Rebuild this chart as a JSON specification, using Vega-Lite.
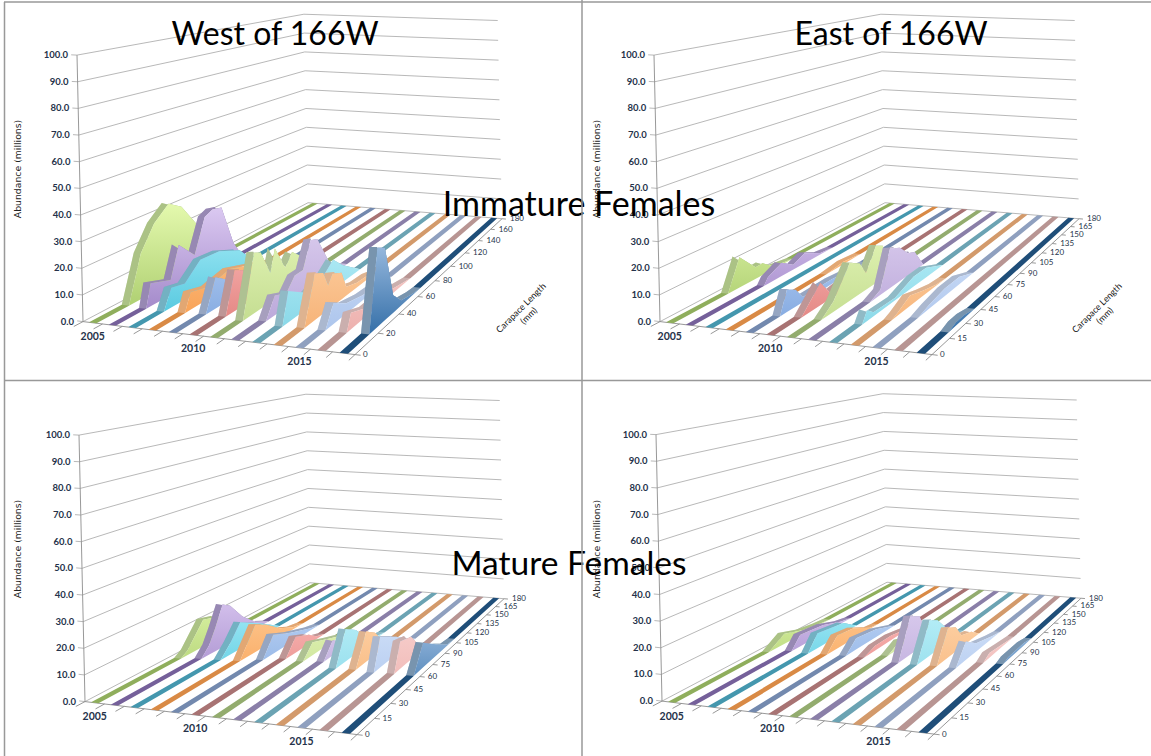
{"$schema":"https://vega.github.io/schema/vega-lite/v6.json","width":1151,"height":756,"padding":0,"autosize":"none","background":"white","view":{"stroke":null},
"encoding":{"x":{"field":"X","type":"quantitative","axis":null,"scale":{"domain":[0,1151],"range":[0,1151],"nice":false,"zero":false}},"y":{"field":"Y","type":"quantitative","axis":null,"scale":{"domain":[0,756],"range":[0,756],"nice":false,"zero":false}}},
"layer":[
{"data":{"values":[{"p":"WI"},{"p":"EI"},{"p":"WM"},{"p":"EM"}]},
"transform":[{"calculate":"[0,10,20,30,40,50,60,70,80,90,100]","as":"level"},{"flatten":["level"]},{"calculate":"[[-0.3,0,0],[0,0,1],[0,180,2],[13,180,3]]","as":"c"},{"flatten":["c"]},{"calculate":"datum.c[0]","as":"uu"},{"calculate":"datum.c[1]","as":"vv"},{"calculate":"datum.level","as":"zz"},{"calculate":"datum.c[2]","as":"i"},
{"calculate":"1-0.0713*datum.uu/13+0.4561*datum.vv/180","as":"w"},{"calculate":"(datum.p=='WI'?0:datum.p=='EI'?577:datum.p=='WM'?2:579)+(246.7*datum.uu/13+365.5*datum.vv/180+83-0.06*datum.zz)/datum.w","as":"X"},{"calculate":"(datum.p=='WM'?380:datum.p=='EM'?379.5:0)+(7.7*datum.uu/13-26.4*datum.vv/180+321.6-2.665*(1+0.03*datum.vv/180)*datum.zz)/datum.w","as":"Y"},{"calculate":"datum.p+datum.level","as":"g"}],
"mark":{"type":"line","color":"#b0b0b0","strokeWidth":0.9},"encoding":{"detail":{"field":"g"},"order":{"field":"i"}}},
{"data":{"values":[{"p":"WI"},{"p":"EI"},{"p":"WM"},{"p":"EM"}]},
"transform":[{"calculate":"datum.p=='WI'?[[0,0,0,0],[0,0,13,0],[13,0,13,180],[0,0,0,-5],[1,0,1,-5],[2,0,2,-5],[3,0,3,-5],[4,0,4,-5],[5,0,5,-5],[6,0,6,-5],[7,0,7,-5],[8,0,8,-5],[9,0,9,-5],[10,0,10,-5],[11,0,11,-5],[12,0,12,-5],[13,0,13,-5],[13,0,13.25,0],[13,20,13.25,20],[13,40,13.25,40],[13,60,13.25,60],[13,80,13.25,80],[13,100,13.25,100],[13,120,13.25,120],[13,140,13.25,140],[13,160,13.25,160],[13,180,13.25,180]]:[[0,0,0,0],[0,0,13,0],[13,0,13,180],[0,0,0,-5],[1,0,1,-5],[2,0,2,-5],[3,0,3,-5],[4,0,4,-5],[5,0,5,-5],[6,0,6,-5],[7,0,7,-5],[8,0,8,-5],[9,0,9,-5],[10,0,10,-5],[11,0,11,-5],[12,0,12,-5],[13,0,13,-5],[13,0,13.25,0],[13,15,13.25,15],[13,30,13.25,30],[13,45,13.25,45],[13,60,13.25,60],[13,75,13.25,75],[13,90,13.25,90],[13,105,13.25,105],[13,120,13.25,120],[13,135,13.25,135],[13,150,13.25,150],[13,165,13.25,165],[13,180,13.25,180]]","as":"seg"},{"flatten":["seg"]},{"calculate":"[0,1]","as":"e"},{"flatten":["e"]},{"calculate":"datum.seg[datum.e*2]","as":"uu"},{"calculate":"datum.seg[datum.e*2+1]","as":"vv"},{"calculate":"datum.seg[0]==datum.seg[2]&&datum.seg[1]==datum.seg[3]?datum.e*100:0","as":"zz"},
{"calculate":"1-0.0713*datum.uu/13+0.4561*datum.vv/180","as":"w"},{"calculate":"(datum.p=='WI'?0:datum.p=='EI'?577:datum.p=='WM'?2:579)+(246.7*datum.uu/13+365.5*datum.vv/180+83-0.06*datum.zz)/datum.w","as":"X"},{"calculate":"(datum.p=='WM'?380:datum.p=='EM'?379.5:0)+(7.7*datum.uu/13-26.4*datum.vv/180+321.6-2.665*(1+0.03*datum.vv/180)*datum.zz)/datum.w","as":"Y"},{"calculate":"datum.p+datum.seg","as":"g"}],
"mark":{"type":"line","color":"#8c8c8c","strokeWidth":0.9},"encoding":{"detail":{"field":"g"},"order":{"field":"e"}}},
{"data":{"values":[
{"p":"WI","yr":2005,"cl":0,"m":0},{"p":"WI","yr":2005,"cl":19,"m":0},{"p":"WI","yr":2005,"cl":27,"m":18},{"p":"WI","yr":2005,"cl":36,"m":27.5},{"p":"WI","yr":2005,"cl":46,"m":33},{"p":"WI","yr":2005,"cl":55,"m":29.4},{"p":"WI","yr":2005,"cl":65,"m":20},{"p":"WI","yr":2005,"cl":80,"m":5},{"p":"WI","yr":2005,"cl":95,"m":0},{"p":"WI","yr":2005,"cl":180,"m":0},
{"p":"WI","yr":2006,"cl":0,"m":0},{"p":"WI","yr":2006,"cl":18,"m":0},{"p":"WI","yr":2006,"cl":21,"m":8.9},{"p":"WI","yr":2006,"cl":34,"m":6},{"p":"WI","yr":2006,"cl":40,"m":18.3},{"p":"WI","yr":2006,"cl":51,"m":11},{"p":"WI","yr":2006,"cl":59,"m":24.7},{"p":"WI","yr":2006,"cl":65,"m":26.4},{"p":"WI","yr":2006,"cl":72,"m":25.4},{"p":"WI","yr":2006,"cl":81,"m":7.6},{"p":"WI","yr":2006,"cl":88,"m":0},{"p":"WI","yr":2006,"cl":180,"m":0},
{"p":"WI","yr":2007,"cl":0,"m":0},{"p":"WI","yr":2007,"cl":17,"m":0},{"p":"WI","yr":2007,"cl":22,"m":7.6},{"p":"WI","yr":2007,"cl":31,"m":6.4},{"p":"WI","yr":2007,"cl":42,"m":12.5},{"p":"WI","yr":2007,"cl":56,"m":11.8},{"p":"WI","yr":2007,"cl":72,"m":7.6},{"p":"WI","yr":2007,"cl":81,"m":1.5},{"p":"WI","yr":2007,"cl":88,"m":0},{"p":"WI","yr":2007,"cl":180,"m":0},
{"p":"WI","yr":2008,"cl":0,"m":0},{"p":"WI","yr":2008,"cl":18,"m":0},{"p":"WI","yr":2008,"cl":22,"m":6.8},{"p":"WI","yr":2008,"cl":34,"m":4.8},{"p":"WI","yr":2008,"cl":50,"m":7},{"p":"WI","yr":2008,"cl":70,"m":3},{"p":"WI","yr":2008,"cl":85,"m":0},{"p":"WI","yr":2008,"cl":180,"m":0},
{"p":"WI","yr":2009,"cl":0,"m":0},{"p":"WI","yr":2009,"cl":19,"m":0},{"p":"WI","yr":2009,"cl":26,"m":12},{"p":"WI","yr":2009,"cl":36,"m":7.6},{"p":"WI","yr":2009,"cl":50,"m":5},{"p":"WI","yr":2009,"cl":65,"m":3},{"p":"WI","yr":2009,"cl":80,"m":0},{"p":"WI","yr":2009,"cl":180,"m":0},
{"p":"WI","yr":2010,"cl":0,"m":0},{"p":"WI","yr":2010,"cl":19,"m":0},{"p":"WI","yr":2010,"cl":26,"m":15.5},{"p":"WI","yr":2010,"cl":34,"m":13},{"p":"WI","yr":2010,"cl":45,"m":5},{"p":"WI","yr":2010,"cl":60,"m":2},{"p":"WI","yr":2010,"cl":75,"m":0},{"p":"WI","yr":2010,"cl":180,"m":0},
{"p":"WI","yr":2011,"cl":0,"m":0},{"p":"WI","yr":2011,"cl":17,"m":0},{"p":"WI","yr":2011,"cl":26,"m":23},{"p":"WI","yr":2011,"cl":31,"m":21.6},{"p":"WI","yr":2011,"cl":38,"m":11.6},{"p":"WI","yr":2011,"cl":42,"m":20},{"p":"WI","yr":2011,"cl":50,"m":9.9},{"p":"WI","yr":2011,"cl":56,"m":14.4},{"p":"WI","yr":2011,"cl":65,"m":9.8},{"p":"WI","yr":2011,"cl":75,"m":3},{"p":"WI","yr":2011,"cl":90,"m":0},{"p":"WI","yr":2011,"cl":180,"m":0},
{"p":"WI","yr":2012,"cl":0,"m":0},{"p":"WI","yr":2012,"cl":19,"m":0},{"p":"WI","yr":2012,"cl":26,"m":7.4},{"p":"WI","yr":2012,"cl":35,"m":5.3},{"p":"WI","yr":2012,"cl":42,"m":10},{"p":"WI","yr":2012,"cl":49,"m":10},{"p":"WI","yr":2012,"cl":56,"m":20},{"p":"WI","yr":2012,"cl":62,"m":18.8},{"p":"WI","yr":2012,"cl":73,"m":5.4},{"p":"WI","yr":2012,"cl":90,"m":0},{"p":"WI","yr":2012,"cl":180,"m":0},
{"p":"WI","yr":2013,"cl":0,"m":0},{"p":"WI","yr":2013,"cl":16,"m":0},{"p":"WI","yr":2013,"cl":21,"m":11.6},{"p":"WI","yr":2013,"cl":37,"m":5.5},{"p":"WI","yr":2013,"cl":50,"m":8},{"p":"WI","yr":2013,"cl":59,"m":11.8},{"p":"WI","yr":2013,"cl":68,"m":6.9},{"p":"WI","yr":2013,"cl":85,"m":0},{"p":"WI","yr":2013,"cl":180,"m":0},
{"p":"WI","yr":2014,"cl":0,"m":0},{"p":"WI","yr":2014,"cl":17,"m":0},{"p":"WI","yr":2014,"cl":26,"m":17.4},{"p":"WI","yr":2014,"cl":33,"m":15.4},{"p":"WI","yr":2014,"cl":37,"m":9.3},{"p":"WI","yr":2014,"cl":41,"m":12.6},{"p":"WI","yr":2014,"cl":49,"m":10.4},{"p":"WI","yr":2014,"cl":53,"m":3.6},{"p":"WI","yr":2014,"cl":63,"m":1.9},{"p":"WI","yr":2014,"cl":75,"m":1.5},{"p":"WI","yr":2014,"cl":85,"m":0},{"p":"WI","yr":2014,"cl":180,"m":0},
{"p":"WI","yr":2015,"cl":0,"m":0},{"p":"WI","yr":2015,"cl":17,"m":0},{"p":"WI","yr":2015,"cl":24,"m":7.8},{"p":"WI","yr":2015,"cl":35,"m":3.9},{"p":"WI","yr":2015,"cl":50,"m":2},{"p":"WI","yr":2015,"cl":65,"m":1.5},{"p":"WI","yr":2015,"cl":80,"m":0},{"p":"WI","yr":2015,"cl":180,"m":0},
{"p":"WI","yr":2016,"cl":0,"m":0},{"p":"WI","yr":2016,"cl":17,"m":0},{"p":"WI","yr":2016,"cl":21,"m":6},{"p":"WI","yr":2016,"cl":35,"m":3},{"p":"WI","yr":2016,"cl":50,"m":3},{"p":"WI","yr":2016,"cl":65,"m":1.5},{"p":"WI","yr":2016,"cl":80,"m":0},{"p":"WI","yr":2016,"cl":180,"m":0},
{"p":"WI","yr":2017,"cl":0,"m":0},{"p":"WI","yr":2017,"cl":18,"m":0},{"p":"WI","yr":2017,"cl":27,"m":29},{"p":"WI","yr":2017,"cl":34,"m":27},{"p":"WI","yr":2017,"cl":41,"m":6.6},{"p":"WI","yr":2017,"cl":49,"m":2},{"p":"WI","yr":2017,"cl":62,"m":0.5},{"p":"WI","yr":2017,"cl":70,"m":0},{"p":"WI","yr":2017,"cl":180,"m":0},
{"p":"EI","yr":2005,"cl":0,"m":0},{"p":"EI","yr":2005,"cl":33,"m":0},{"p":"EI","yr":2005,"cl":41,"m":12.3},{"p":"EI","yr":2005,"cl":52,"m":4.8},{"p":"EI","yr":2005,"cl":57,"m":5},{"p":"EI","yr":2005,"cl":65,"m":1.3},{"p":"EI","yr":2005,"cl":80,"m":0},{"p":"EI","yr":2005,"cl":180,"m":0},
{"p":"EI","yr":2006,"cl":0,"m":0},{"p":"EI","yr":2006,"cl":45,"m":0},{"p":"EI","yr":2006,"cl":48,"m":2.7},{"p":"EI","yr":2006,"cl":58,"m":5.6},{"p":"EI","yr":2006,"cl":67,"m":2},{"p":"EI","yr":2006,"cl":76,"m":4.4},{"p":"EI","yr":2006,"cl":89,"m":0.7},{"p":"EI","yr":2006,"cl":100,"m":0},{"p":"EI","yr":2006,"cl":180,"m":0},
{"p":"EI","yr":2007,"cl":0,"m":0},{"p":"EI","yr":2007,"cl":180,"m":0},
{"p":"EI","yr":2008,"cl":0,"m":0},{"p":"EI","yr":2008,"cl":65,"m":0},{"p":"EI","yr":2008,"cl":80,"m":1},{"p":"EI","yr":2008,"cl":95,"m":0},{"p":"EI","yr":2008,"cl":180,"m":0},
{"p":"EI","yr":2009,"cl":0,"m":0},{"p":"EI","yr":2009,"cl":17,"m":0},{"p":"EI","yr":2009,"cl":22,"m":8.5},{"p":"EI","yr":2009,"cl":28,"m":6.5},{"p":"EI","yr":2009,"cl":33,"m":2},{"p":"EI","yr":2009,"cl":39,"m":2},{"p":"EI","yr":2009,"cl":55,"m":2},{"p":"EI","yr":2009,"cl":70,"m":1},{"p":"EI","yr":2009,"cl":85,"m":0},{"p":"EI","yr":2009,"cl":180,"m":0},
{"p":"EI","yr":2010,"cl":0,"m":0},{"p":"EI","yr":2010,"cl":18,"m":0},{"p":"EI","yr":2010,"cl":32,"m":8.7},{"p":"EI","yr":2010,"cl":39,"m":2.6},{"p":"EI","yr":2010,"cl":47,"m":3.3},{"p":"EI","yr":2010,"cl":60,"m":3},{"p":"EI","yr":2010,"cl":75,"m":1},{"p":"EI","yr":2010,"cl":90,"m":0},{"p":"EI","yr":2010,"cl":180,"m":0},
{"p":"EI","yr":2011,"cl":0,"m":0},{"p":"EI","yr":2011,"cl":18,"m":0},{"p":"EI","yr":2011,"cl":27,"m":3.9},{"p":"EI","yr":2011,"cl":40,"m":14.8},{"p":"EI","yr":2011,"cl":48,"m":12.2},{"p":"EI","yr":2011,"cl":53,"m":6.7},{"p":"EI","yr":2011,"cl":62,"m":15.3},{"p":"EI","yr":2011,"cl":68,"m":13.6},{"p":"EI","yr":2011,"cl":72,"m":5},{"p":"EI","yr":2011,"cl":80,"m":1},{"p":"EI","yr":2011,"cl":95,"m":0},{"p":"EI","yr":2011,"cl":180,"m":0},
{"p":"EI","yr":2012,"cl":0,"m":0},{"p":"EI","yr":2012,"cl":40,"m":0},{"p":"EI","yr":2012,"cl":49,"m":2},{"p":"EI","yr":2012,"cl":58,"m":16},{"p":"EI","yr":2012,"cl":67,"m":13.7},{"p":"EI","yr":2012,"cl":74,"m":9.4},{"p":"EI","yr":2012,"cl":81,"m":7.8},{"p":"EI","yr":2012,"cl":89,"m":0},{"p":"EI","yr":2012,"cl":180,"m":0},
{"p":"EI","yr":2013,"cl":0,"m":0},{"p":"EI","yr":2013,"cl":18,"m":0},{"p":"EI","yr":2013,"cl":22,"m":4},{"p":"EI","yr":2013,"cl":27,"m":1.5},{"p":"EI","yr":2013,"cl":45,"m":1},{"p":"EI","yr":2013,"cl":62,"m":4},{"p":"EI","yr":2013,"cl":74,"m":4},{"p":"EI","yr":2013,"cl":91,"m":0},{"p":"EI","yr":2013,"cl":180,"m":0},
{"p":"EI","yr":2014,"cl":0,"m":0},{"p":"EI","yr":2014,"cl":25,"m":0},{"p":"EI","yr":2014,"cl":30,"m":1},{"p":"EI","yr":2014,"cl":41,"m":4},{"p":"EI","yr":2014,"cl":53,"m":2},{"p":"EI","yr":2014,"cl":65,"m":0.5},{"p":"EI","yr":2014,"cl":75,"m":0},{"p":"EI","yr":2014,"cl":180,"m":0},
{"p":"EI","yr":2015,"cl":0,"m":0},{"p":"EI","yr":2015,"cl":30,"m":0},{"p":"EI","yr":2015,"cl":40,"m":1.5},{"p":"EI","yr":2015,"cl":55,"m":3},{"p":"EI","yr":2015,"cl":70,"m":3},{"p":"EI","yr":2015,"cl":85,"m":0},{"p":"EI","yr":2015,"cl":180,"m":0},
{"p":"EI","yr":2016,"cl":0,"m":0},{"p":"EI","yr":2016,"cl":180,"m":0},
{"p":"EI","yr":2017,"cl":0,"m":0},{"p":"EI","yr":2017,"cl":20,"m":0},{"p":"EI","yr":2017,"cl":27,"m":1.2},{"p":"EI","yr":2017,"cl":35,"m":1.2},{"p":"EI","yr":2017,"cl":45,"m":0},{"p":"EI","yr":2017,"cl":180,"m":0},
{"p":"WM","yr":2005,"cl":0,"m":0},{"p":"WM","yr":2005,"cl":52,"m":0},{"p":"WM","yr":2005,"cl":57,"m":2},{"p":"WM","yr":2005,"cl":69,"m":11.6},{"p":"WM","yr":2005,"cl":80,"m":9.8},{"p":"WM","yr":2005,"cl":95,"m":3},{"p":"WM","yr":2005,"cl":105,"m":0},{"p":"WM","yr":2005,"cl":180,"m":0},
{"p":"WM","yr":2006,"cl":0,"m":0},{"p":"WM","yr":2006,"cl":54,"m":0},{"p":"WM","yr":2006,"cl":60,"m":4},{"p":"WM","yr":2006,"cl":65,"m":10},{"p":"WM","yr":2006,"cl":71,"m":18.3},{"p":"WM","yr":2006,"cl":77,"m":16.1},{"p":"WM","yr":2006,"cl":87,"m":8.6},{"p":"WM","yr":2006,"cl":98,"m":3.2},{"p":"WM","yr":2006,"cl":110,"m":0},{"p":"WM","yr":2006,"cl":180,"m":0},
{"p":"WM","yr":2007,"cl":0,"m":0},{"p":"WM","yr":2007,"cl":55,"m":0},{"p":"WM","yr":2007,"cl":63,"m":5},{"p":"WM","yr":2007,"cl":71,"m":11.3},{"p":"WM","yr":2007,"cl":87,"m":6.3},{"p":"WM","yr":2007,"cl":105,"m":0},{"p":"WM","yr":2007,"cl":180,"m":0},
{"p":"WM","yr":2008,"cl":0,"m":0},{"p":"WM","yr":2008,"cl":56,"m":0},{"p":"WM","yr":2008,"cl":69,"m":11.5},{"p":"WM","yr":2008,"cl":78,"m":9},{"p":"WM","yr":2008,"cl":90,"m":4},{"p":"WM","yr":2008,"cl":102,"m":1},{"p":"WM","yr":2008,"cl":112,"m":0},{"p":"WM","yr":2008,"cl":180,"m":0},
{"p":"WM","yr":2009,"cl":0,"m":0},{"p":"WM","yr":2009,"cl":60,"m":0},{"p":"WM","yr":2009,"cl":69,"m":8},{"p":"WM","yr":2009,"cl":84,"m":4.4},{"p":"WM","yr":2009,"cl":103,"m":1},{"p":"WM","yr":2009,"cl":112,"m":0},{"p":"WM","yr":2009,"cl":180,"m":0},
{"p":"WM","yr":2010,"cl":0,"m":0},{"p":"WM","yr":2010,"cl":64,"m":0},{"p":"WM","yr":2010,"cl":73,"m":6.7},{"p":"WM","yr":2010,"cl":85,"m":4},{"p":"WM","yr":2010,"cl":92,"m":1.3},{"p":"WM","yr":2010,"cl":100,"m":0},{"p":"WM","yr":2010,"cl":180,"m":0},
{"p":"WM","yr":2011,"cl":0,"m":0},{"p":"WM","yr":2011,"cl":63,"m":0},{"p":"WM","yr":2011,"cl":72,"m":5.4},{"p":"WM","yr":2011,"cl":88,"m":2.2},{"p":"WM","yr":2011,"cl":100,"m":0},{"p":"WM","yr":2011,"cl":180,"m":0},
{"p":"WM","yr":2012,"cl":0,"m":0},{"p":"WM","yr":2012,"cl":65,"m":0},{"p":"WM","yr":2012,"cl":74,"m":6.4},{"p":"WM","yr":2012,"cl":82,"m":3.2},{"p":"WM","yr":2012,"cl":95,"m":0},{"p":"WM","yr":2012,"cl":180,"m":0},
{"p":"WM","yr":2013,"cl":0,"m":0},{"p":"WM","yr":2013,"cl":59,"m":0},{"p":"WM","yr":2013,"cl":69,"m":13.3},{"p":"WM","yr":2013,"cl":79,"m":10},{"p":"WM","yr":2013,"cl":90,"m":3.5},{"p":"WM","yr":2013,"cl":100,"m":1},{"p":"WM","yr":2013,"cl":110,"m":0},{"p":"WM","yr":2013,"cl":180,"m":0},
{"p":"WM","yr":2014,"cl":0,"m":0},{"p":"WM","yr":2014,"cl":60,"m":0},{"p":"WM","yr":2014,"cl":71,"m":12.4},{"p":"WM","yr":2014,"cl":80,"m":9.3},{"p":"WM","yr":2014,"cl":88,"m":3.5},{"p":"WM","yr":2014,"cl":100,"m":0},{"p":"WM","yr":2014,"cl":180,"m":0},
{"p":"WM","yr":2015,"cl":0,"m":0},{"p":"WM","yr":2015,"cl":59,"m":0},{"p":"WM","yr":2015,"cl":66,"m":12.4},{"p":"WM","yr":2015,"cl":83,"m":7.4},{"p":"WM","yr":2015,"cl":95,"m":3},{"p":"WM","yr":2015,"cl":105,"m":0},{"p":"WM","yr":2015,"cl":180,"m":0},
{"p":"WM","yr":2016,"cl":0,"m":0},{"p":"WM","yr":2016,"cl":60,"m":0},{"p":"WM","yr":2016,"cl":67,"m":11},{"p":"WM","yr":2016,"cl":79,"m":9.4},{"p":"WM","yr":2016,"cl":90,"m":1.6},{"p":"WM","yr":2016,"cl":100,"m":0},{"p":"WM","yr":2016,"cl":180,"m":0},
{"p":"WM","yr":2017,"cl":0,"m":0},{"p":"WM","yr":2017,"cl":60,"m":0},{"p":"WM","yr":2017,"cl":71,"m":10},{"p":"WM","yr":2017,"cl":89,"m":3.8},{"p":"WM","yr":2017,"cl":100,"m":0.5},{"p":"WM","yr":2017,"cl":110,"m":0},{"p":"WM","yr":2017,"cl":180,"m":0},
{"p":"EM","yr":2005,"cl":0,"m":0},{"p":"EM","yr":2005,"cl":60,"m":0},{"p":"EM","yr":2005,"cl":72,"m":4.4},{"p":"EM","yr":2005,"cl":87,"m":1.6},{"p":"EM","yr":2005,"cl":100,"m":0.5},{"p":"EM","yr":2005,"cl":110,"m":0},{"p":"EM","yr":2005,"cl":180,"m":0},
{"p":"EM","yr":2006,"cl":0,"m":0},{"p":"EM","yr":2006,"cl":64,"m":0},{"p":"EM","yr":2006,"cl":71,"m":5},{"p":"EM","yr":2006,"cl":90,"m":3.8},{"p":"EM","yr":2006,"cl":105,"m":1},{"p":"EM","yr":2006,"cl":115,"m":0},{"p":"EM","yr":2006,"cl":180,"m":0},
{"p":"EM","yr":2007,"cl":0,"m":0},{"p":"EM","yr":2007,"cl":63,"m":0},{"p":"EM","yr":2007,"cl":71,"m":6.3},{"p":"EM","yr":2007,"cl":93,"m":4.5},{"p":"EM","yr":2007,"cl":105,"m":0},{"p":"EM","yr":2007,"cl":180,"m":0},
{"p":"EM","yr":2008,"cl":0,"m":0},{"p":"EM","yr":2008,"cl":64,"m":0},{"p":"EM","yr":2008,"cl":73,"m":5.6},{"p":"EM","yr":2008,"cl":87,"m":4.6},{"p":"EM","yr":2008,"cl":102,"m":0.5},{"p":"EM","yr":2008,"cl":110,"m":0},{"p":"EM","yr":2008,"cl":180,"m":0},
{"p":"EM","yr":2009,"cl":0,"m":0},{"p":"EM","yr":2009,"cl":65,"m":0},{"p":"EM","yr":2009,"cl":74,"m":4.8},{"p":"EM","yr":2009,"cl":92,"m":3.4},{"p":"EM","yr":2009,"cl":110,"m":0},{"p":"EM","yr":2009,"cl":180,"m":0},
{"p":"EM","yr":2010,"cl":0,"m":0},{"p":"EM","yr":2010,"cl":65,"m":0},{"p":"EM","yr":2010,"cl":75,"m":2},{"p":"EM","yr":2010,"cl":90,"m":2},{"p":"EM","yr":2010,"cl":105,"m":0.5},{"p":"EM","yr":2010,"cl":115,"m":0},{"p":"EM","yr":2010,"cl":180,"m":0},
{"p":"EM","yr":2011,"cl":0,"m":0},{"p":"EM","yr":2011,"cl":70,"m":0},{"p":"EM","yr":2011,"cl":82,"m":3},{"p":"EM","yr":2011,"cl":95,"m":0.5},{"p":"EM","yr":2011,"cl":105,"m":0},{"p":"EM","yr":2011,"cl":180,"m":0},
{"p":"EM","yr":2012,"cl":0,"m":0},{"p":"EM","yr":2012,"cl":63,"m":0},{"p":"EM","yr":2012,"cl":75,"m":16},{"p":"EM","yr":2012,"cl":84,"m":13.6},{"p":"EM","yr":2012,"cl":90,"m":5},{"p":"EM","yr":2012,"cl":100,"m":0.5},{"p":"EM","yr":2012,"cl":108,"m":0},{"p":"EM","yr":2012,"cl":180,"m":0},
{"p":"EM","yr":2013,"cl":0,"m":0},{"p":"EM","yr":2013,"cl":63,"m":0},{"p":"EM","yr":2013,"cl":76,"m":14.8},{"p":"EM","yr":2013,"cl":84,"m":12.6},{"p":"EM","yr":2013,"cl":93,"m":6.6},{"p":"EM","yr":2013,"cl":105,"m":0.5},{"p":"EM","yr":2013,"cl":112,"m":0},{"p":"EM","yr":2013,"cl":180,"m":0},
{"p":"EM","yr":2014,"cl":0,"m":0},{"p":"EM","yr":2014,"cl":64,"m":0},{"p":"EM","yr":2014,"cl":76,"m":12.2},{"p":"EM","yr":2014,"cl":84,"m":10.2},{"p":"EM","yr":2014,"cl":90,"m":5},{"p":"EM","yr":2014,"cl":101,"m":3.4},{"p":"EM","yr":2014,"cl":110,"m":0},{"p":"EM","yr":2014,"cl":180,"m":0},
{"p":"EM","yr":2015,"cl":0,"m":0},{"p":"EM","yr":2015,"cl":64,"m":0},{"p":"EM","yr":2015,"cl":75,"m":7.6},{"p":"EM","yr":2015,"cl":86,"m":3.5},{"p":"EM","yr":2015,"cl":105,"m":1},{"p":"EM","yr":2015,"cl":115,"m":0},{"p":"EM","yr":2015,"cl":180,"m":0},
{"p":"EM","yr":2016,"cl":0,"m":0},{"p":"EM","yr":2016,"cl":73,"m":0},{"p":"EM","yr":2016,"cl":80,"m":2},{"p":"EM","yr":2016,"cl":95,"m":1},{"p":"EM","yr":2016,"cl":110,"m":0},{"p":"EM","yr":2016,"cl":180,"m":0},
{"p":"EM","yr":2017,"cl":0,"m":0},{"p":"EM","yr":2017,"cl":74,"m":0},{"p":"EM","yr":2017,"cl":80,"m":1},{"p":"EM","yr":2017,"cl":100,"m":1},{"p":"EM","yr":2017,"cl":110,"m":0},{"p":"EM","yr":2017,"cl":180,"m":0}
]},
"transform":[{"window":[{"op":"lag","field":"m","param":1,"as":"lg"},{"op":"lead","field":"m","param":1,"as":"ld"}],"groupby":["p","yr"],"sort":[{"field":"cl","order":"ascending"}]},{"calculate":"datum.m>0||datum.lg>0||datum.ld>0","as":"raised"},{"calculate":"[['t',0.31,1,0],['t',0.69,1,1],['s',0.69,1,0],['s',0.69,0,1]]","as":"vt"},{"flatten":["vt"]},{"calculate":"datum.yr-2005+datum.vt[1]","as":"uu"},{"calculate":"datum.cl","as":"vv"},{"calculate":"datum.m*datum.vt[2]","as":"zz"},{"calculate":"datum.vt[3]==0?datum.cl:1000-datum.cl","as":"ord"},{"calculate":"datum.yr+datum.vt[0]","as":"fk"},
{"calculate":"1-0.0713*datum.uu/13+0.4561*datum.vv/180","as":"w"},{"calculate":"(datum.p=='WI'?0:datum.p=='EI'?577:datum.p=='WM'?2:579)+(246.7*datum.uu/13+365.5*datum.vv/180+83-0.06*datum.zz)/datum.w","as":"X"},{"calculate":"(datum.p=='WM'?380:datum.p=='EM'?379.5:0)+(7.7*datum.uu/13-26.4*datum.vv/180+321.6-2.665*(1+0.03*datum.vv/180)*datum.zz)/datum.w","as":"Y"}],
"encoding":{"detail":{"field":"p"},"order":{"field":"ord"}},
"layer":[
{"transform":[{"filter":"datum.fk=='2005t'"}],"mark":{"type":"line","strokeWidth":0,"fill":"#8FAE5C"}},
{"transform":[{"filter":"datum.fk=='2005t'&&datum.raised"}],"mark":{"type":"line","strokeWidth":0,"fill":"#ffffff","fillOpacity":0.25}},
{"transform":[{"filter":"datum.fk=='2005s'"}],"mark":{"type":"line","strokeWidth":0,"fill":{"gradient":"linear","x1":0,"y1":0,"x2":0,"y2":1,"stops":[{"offset":0,"color":"#E4F9AE"},{"offset":1,"color":"#A6C968"}]}}},
{"transform":[{"filter":"datum.fk=='2006t'"}],"mark":{"type":"line","strokeWidth":0,"fill":"#75609A"}},
{"transform":[{"filter":"datum.fk=='2006t'&&datum.raised"}],"mark":{"type":"line","strokeWidth":0,"fill":"#ffffff","fillOpacity":0.25}},
{"transform":[{"filter":"datum.fk=='2006s'"}],"mark":{"type":"line","strokeWidth":0,"fill":{"gradient":"linear","x1":0,"y1":0,"x2":0,"y2":1,"stops":[{"offset":0,"color":"#DCCAF2"},{"offset":1,"color":"#9B80C4"}]}}},
{"transform":[{"filter":"datum.fk=='2007t'"}],"mark":{"type":"line","strokeWidth":0,"fill":"#4497AE"}},
{"transform":[{"filter":"datum.fk=='2007t'&&datum.raised"}],"mark":{"type":"line","strokeWidth":0,"fill":"#ffffff","fillOpacity":0.25}},
{"transform":[{"filter":"datum.fk=='2007s'"}],"mark":{"type":"line","strokeWidth":0,"fill":{"gradient":"linear","x1":0,"y1":0,"x2":0,"y2":1,"stops":[{"offset":0,"color":"#B0F0FA"},{"offset":1,"color":"#4CC4DC"}]}}},
{"transform":[{"filter":"datum.fk=='2008t'"}],"mark":{"type":"line","strokeWidth":0,"fill":"#D98A45"}},
{"transform":[{"filter":"datum.fk=='2008t'&&datum.raised"}],"mark":{"type":"line","strokeWidth":0,"fill":"#ffffff","fillOpacity":0.25}},
{"transform":[{"filter":"datum.fk=='2008s'"}],"mark":{"type":"line","strokeWidth":0,"fill":{"gradient":"linear","x1":0,"y1":0,"x2":0,"y2":1,"stops":[{"offset":0,"color":"#FFCF9C"},{"offset":1,"color":"#F79C4D"}]}}},
{"transform":[{"filter":"datum.fk=='2009t'"}],"mark":{"type":"line","strokeWidth":0,"fill":"#7389AE"}},
{"transform":[{"filter":"datum.fk=='2009t'&&datum.raised"}],"mark":{"type":"line","strokeWidth":0,"fill":"#ffffff","fillOpacity":0.25}},
{"transform":[{"filter":"datum.fk=='2009s'"}],"mark":{"type":"line","strokeWidth":0,"fill":{"gradient":"linear","x1":0,"y1":0,"x2":0,"y2":1,"stops":[{"offset":0,"color":"#C4D9F7"},{"offset":1,"color":"#7FA6DF"}]}}},
{"transform":[{"filter":"datum.fk=='2010t'"}],"mark":{"type":"line","strokeWidth":0,"fill":"#A87373"}},
{"transform":[{"filter":"datum.fk=='2010t'&&datum.raised"}],"mark":{"type":"line","strokeWidth":0,"fill":"#ffffff","fillOpacity":0.25}},
{"transform":[{"filter":"datum.fk=='2010s'"}],"mark":{"type":"line","strokeWidth":0,"fill":{"gradient":"linear","x1":0,"y1":0,"x2":0,"y2":1,"stops":[{"offset":0,"color":"#FFC2C0"},{"offset":1,"color":"#E07F7C"}]}}},
{"transform":[{"filter":"datum.fk=='2011t'"}],"mark":{"type":"line","strokeWidth":0,"fill":"#93AC6E"}},
{"transform":[{"filter":"datum.fk=='2011t'&&datum.raised"}],"mark":{"type":"line","strokeWidth":0,"fill":"#ffffff","fillOpacity":0.25}},
{"transform":[{"filter":"datum.fk=='2011s'"}],"mark":{"type":"line","strokeWidth":0,"fill":{"gradient":"linear","x1":0,"y1":0,"x2":0,"y2":1,"stops":[{"offset":0,"color":"#E8F9BC"},{"offset":1,"color":"#BFD98B"}]}}},
{"transform":[{"filter":"datum.fk=='2012t'"}],"mark":{"type":"line","strokeWidth":0,"fill":"#8A7FA8"}},
{"transform":[{"filter":"datum.fk=='2012t'&&datum.raised"}],"mark":{"type":"line","strokeWidth":0,"fill":"#ffffff","fillOpacity":0.25}},
{"transform":[{"filter":"datum.fk=='2012s'"}],"mark":{"type":"line","strokeWidth":0,"fill":{"gradient":"linear","x1":0,"y1":0,"x2":0,"y2":1,"stops":[{"offset":0,"color":"#DED0F0"},{"offset":1,"color":"#B5A2D6"}]}}},
{"transform":[{"filter":"datum.fk=='2013t'"}],"mark":{"type":"line","strokeWidth":0,"fill":"#6BA3B3"}},
{"transform":[{"filter":"datum.fk=='2013t'&&datum.raised"}],"mark":{"type":"line","strokeWidth":0,"fill":"#ffffff","fillOpacity":0.25}},
{"transform":[{"filter":"datum.fk=='2013s'"}],"mark":{"type":"line","strokeWidth":0,"fill":{"gradient":"linear","x1":0,"y1":0,"x2":0,"y2":1,"stops":[{"offset":0,"color":"#BFF2FA"},{"offset":1,"color":"#83D5E6"}]}}},
{"transform":[{"filter":"datum.fk=='2014t'"}],"mark":{"type":"line","strokeWidth":0,"fill":"#D39A6B"}},
{"transform":[{"filter":"datum.fk=='2014t'&&datum.raised"}],"mark":{"type":"line","strokeWidth":0,"fill":"#ffffff","fillOpacity":0.25}},
{"transform":[{"filter":"datum.fk=='2014s'"}],"mark":{"type":"line","strokeWidth":0,"fill":{"gradient":"linear","x1":0,"y1":0,"x2":0,"y2":1,"stops":[{"offset":0,"color":"#FFD7AE"},{"offset":1,"color":"#F5AE70"}]}}},
{"transform":[{"filter":"datum.fk=='2015t'"}],"mark":{"type":"line","strokeWidth":0,"fill":"#8FA0BF"}},
{"transform":[{"filter":"datum.fk=='2015t'&&datum.raised"}],"mark":{"type":"line","strokeWidth":0,"fill":"#ffffff","fillOpacity":0.25}},
{"transform":[{"filter":"datum.fk=='2015s'"}],"mark":{"type":"line","strokeWidth":0,"fill":{"gradient":"linear","x1":0,"y1":0,"x2":0,"y2":1,"stops":[{"offset":0,"color":"#D8E6FB"},{"offset":1,"color":"#A6C0EA"}]}}},
{"transform":[{"filter":"datum.fk=='2016t'"}],"mark":{"type":"line","strokeWidth":0,"fill":"#B89593"}},
{"transform":[{"filter":"datum.fk=='2016t'&&datum.raised"}],"mark":{"type":"line","strokeWidth":0,"fill":"#ffffff","fillOpacity":0.25}},
{"transform":[{"filter":"datum.fk=='2016s'"}],"mark":{"type":"line","strokeWidth":0,"fill":{"gradient":"linear","x1":0,"y1":0,"x2":0,"y2":1,"stops":[{"offset":0,"color":"#FAD7D5"},{"offset":1,"color":"#EBABA8"}]}}},
{"transform":[{"filter":"datum.fk=='2017t'"}],"mark":{"type":"line","strokeWidth":0,"fill":"#1F4E79"}},
{"transform":[{"filter":"datum.fk=='2017t'&&datum.raised"}],"mark":{"type":"line","strokeWidth":0,"fill":"#ffffff","fillOpacity":0.4}},
{"transform":[{"filter":"datum.fk=='2017s'"}],"mark":{"type":"line","strokeWidth":0,"fill":{"gradient":"linear","x1":0,"y1":0,"x2":0,"y2":1,"stops":[{"offset":0,"color":"#B5CFEE"},{"offset":1,"color":"#1F5F9C"}]}}}
]},
{"data":{"values":[{"p":"WI"},{"p":"EI"},{"p":"WM"},{"p":"EM"}]},
"transform":[{"calculate":"[0,10,20,30,40,50,60,70,80,90,100]","as":"level"},{"flatten":["level"]},{"calculate":"format(datum.level,'.1f')","as":"lbl"},{"calculate":"(datum.p=='WI'?0:datum.p=='EI'?577:datum.p=='WM'?2:579)+83-0.06*datum.level","as":"X"},{"calculate":"(datum.p=='WM'?380:datum.p=='EM'?379.5:0)+321.6-2.665*datum.level","as":"Y"}],
"mark":{"type":"text","font":"Lato","fontSize":9.5,"fontWeight":"bold","color":"#25324a","align":"right","dx":-9,"baseline":"middle"},"encoding":{"text":{"field":"lbl"}}},
{"data":{"values":[{"p":"WI","yr":2005},{"p":"WI","yr":2010},{"p":"WI","yr":2015},{"p":"EI","yr":2005},{"p":"EI","yr":2010},{"p":"EI","yr":2015},{"p":"WM","yr":2005},{"p":"WM","yr":2010},{"p":"WM","yr":2015},{"p":"EM","yr":2005},{"p":"EM","yr":2010},{"p":"EM","yr":2015}]},
"transform":[{"calculate":"datum.yr-2005+0.5","as":"uu"},{"calculate":"1-0.0713*datum.uu/13","as":"w"},{"calculate":"(datum.p=='WI'?0:datum.p=='EI'?577:datum.p=='WM'?2:579)+(246.7*datum.uu/13+83)/datum.w","as":"X"},{"calculate":"(datum.p=='WM'?380:datum.p=='EM'?379.5:0)+(7.7*datum.uu/13+322)/datum.w","as":"Y"}],
"mark":{"type":"text","font":"Lato","fontSize":10.5,"fontWeight":"bold","color":"#25324a","align":"center","dy":14,"baseline":"middle"},"encoding":{"text":{"field":"yr","type":"nominal"}}},
{"data":{"values":[{"p":"WI"},{"p":"EI"},{"p":"WM"},{"p":"EM"}]},
"transform":[{"calculate":"datum.p=='WI'?[0,20,40,60,80,100,120,140,160,180]:[0,15,30,45,60,75,90,105,120,135,150,165,180]","as":"vv"},{"flatten":["vv"]},{"calculate":"1-0.0713+0.4561*datum.vv/180","as":"w"},{"calculate":"(datum.p=='WI'?0:datum.p=='EI'?577:datum.p=='WM'?2:579)+(246.7+365.5*datum.vv/180+83)/datum.w","as":"X"},{"calculate":"(datum.p=='WM'?380:datum.p=='EM'?379.5:0)+(7.7-26.4*datum.vv/180+322)/datum.w","as":"Y"}],
"mark":{"type":"text","font":"Lato","fontSize":8,"color":"#25324a","align":"left","dx":8,"baseline":"middle"},"encoding":{"text":{"field":"vv","type":"nominal"}}},
{"data":{"values":[{"p":"WI"},{"p":"EI"},{"p":"WM"},{"p":"EM"}]},
"transform":[{"calculate":"(datum.p=='WI'||datum.p=='WM'?18:597)","as":"X"},{"calculate":"datum.p=='WI'||datum.p=='EI'?169:549","as":"Y"},{"calculate":"'Abundance (millions)'","as":"t"}],
"mark":{"type":"text","font":"DejaVu Sans","fontSize":9.3,"color":"#222","angle":270,"align":"center","baseline":"middle"},"encoding":{"text":{"field":"t"}}},
{"data":{"values":[{"p":"WI"},{"p":"EI"}]},
"transform":[{"calculate":"datum.p=='WI'?521:1097","as":"X"},{"calculate":"308","as":"Y"},{"calculate":"'Carapace Length\\n(mm)'","as":"t"}],
"mark":{"type":"text","font":"Lato","fontSize":9,"color":"#111","angle":315,"align":"center","baseline":"middle","lineBreak":"\n"},"encoding":{"text":{"field":"t"}}},
{"data":{"values":[{"t":"West of 166W"}]},"mark":{"type":"text","font":"Lato","fontSize":32,"color":"#000","align":"center","baseline":"middle"},"encoding":{"x":{"value":275},"y":{"value":35},"text":{"field":"t"}}},
{"data":{"values":[{"t":"East of 166W"}]},"mark":{"type":"text","font":"Lato","fontSize":32,"color":"#000","align":"center","baseline":"middle"},"encoding":{"x":{"value":891},"y":{"value":35},"text":{"field":"t"}}},
{"data":{"values":[{"t":"Immature Females"}]},"mark":{"type":"text","font":"Lato","fontSize":34,"color":"#000","align":"center","baseline":"middle"},"encoding":{"x":{"value":579},"y":{"value":206},"text":{"field":"t"}}},
{"data":{"values":[{"t":"Mature Females"}]},"mark":{"type":"text","font":"Lato","fontSize":33.5,"color":"#000","align":"center","baseline":"middle"},"encoding":{"x":{"value":569},"y":{"value":565},"text":{"field":"t"}}},
{"data":{"values":[{}]},"mark":{"type":"rule","color":"#999","strokeWidth":1.5},"encoding":{"x":{"value":582},"y":{"value":0},"y2":{"value":756}}},
{"data":{"values":[{}]},"mark":{"type":"rule","color":"#999","strokeWidth":1.5},"encoding":{"x":{"value":4.5},"y":{"value":2},"y2":{"value":756}}},
{"data":{"values":[{}]},"mark":{"type":"rule","color":"#999","strokeWidth":1.5},"encoding":{"y":{"value":2},"x":{"value":4},"x2":{"value":1151}}},
{"data":{"values":[{}]},"mark":{"type":"rule","color":"#999","strokeWidth":1.5},"encoding":{"y":{"value":380.5},"x":{"value":4},"x2":{"value":1151}}}
]}
